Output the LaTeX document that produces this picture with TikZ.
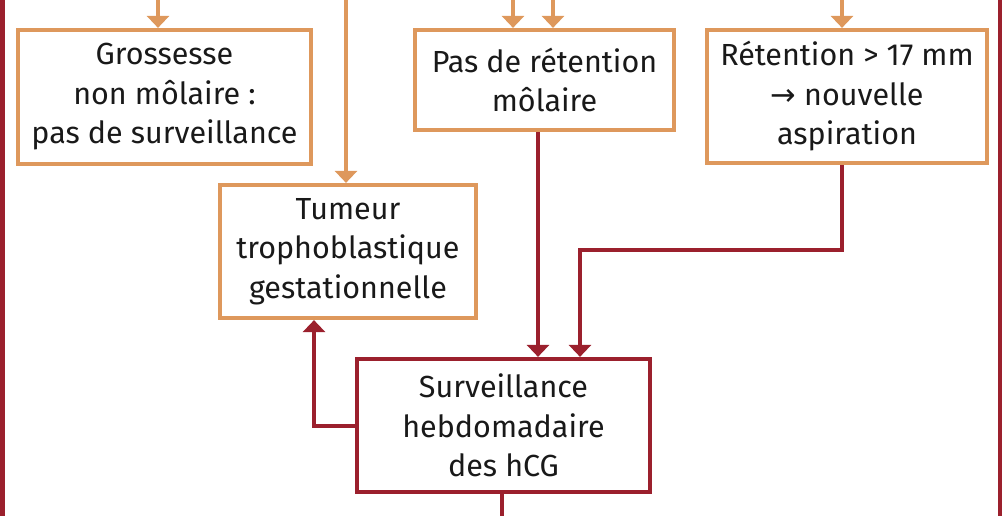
\documentclass[tikz,border=0pt]{standalone}
\usepackage{fontspec}
\setmainfont{Fira Sans}
\newfontfamily\symfont{DejaVu Sans}
\usetikzlibrary{arrows.meta}
\definecolor{orangebox}{RGB}{222,152,92}
\definecolor{redbox}{RGB}{155,32,45}
\tikzset{
  box/.style={draw, line width=4.2pt, align=center, inner sep=0pt, font=\fontsize{30.5}{39.5}\selectfont, text=black!90},
  obox/.style={box, draw=orangebox},
  rbox/.style={box, draw=redbox},
  oarr/.style={orangebox, line width=4.2pt, -{Triangle[width=22pt,length=12pt]}},
  rarr/.style={redbox, line width=4.2pt, -{Triangle[width=22pt,length=12pt]}},
}
\begin{document}
\begin{tikzpicture}[x=1pt, y=-1pt]
        \useasboundingbox (0,0) rectangle (1004,516);
        \node[obox, minimum width=293pt, minimum height=134pt] (gros) at (164.5,97) {Grossesse\\non môlaire :\\pas de surveillance};
        \node[obox, minimum width=259pt, minimum height=100pt] (pasret) at (544.5,80) {Pas de rétention\\môlaire};
        \node[obox, minimum width=280pt, minimum height=133pt] (ret) at (847,96.5) {Rétention > 17 mm\\{\symfont→} nouvelle\\aspiration};
        \node[obox, minimum width=256pt, minimum height=133pt] (tum) at (348,251.5) {Tumeur\\trophoblastique\\gestationnelle};
        \node[rbox, minimum width=293pt, minimum height=133pt] (surv) at (503.5,425.5) {Surveillance\\hebdomadaire\\des hCG};
        % incoming from above
        \coordinate (g1) at (158,0); \coordinate (t1) at (346,0);
        \coordinate (p1) at (513,0); \coordinate (p2) at (553,0); \coordinate (r1) at (842,0);
        \foreach \p/\n in {g1/gros, t1/tum, p1/pasret, p2/pasret, r1/ret} \draw[oarr] (\p) -- (\p |- \n.north);
        % surveillance
        \coordinate (s1) at (538,0); \coordinate (s2) at (580,250); \coordinate (k) at (314,426);
        \draw[rarr] (pasret.south -| s1) -- (surv.north -| s1);
        \draw[rarr] (ret.south -| r1) |- (s2) -- (surv.north -| s2);
        \draw[rarr] (surv.west |- k) -- (k) -- (tum.south -| k);
        \coordinate (out) at (502,516);
        \draw[redbox, line width=4.2pt] (surv.south -| out) -- (out);
        % side rules
        \draw[redbox, line width=4.2pt] (2.5,0) -- (2.5,516) (1000,0) -- (1000,516);
\end{tikzpicture}
\end{document}
